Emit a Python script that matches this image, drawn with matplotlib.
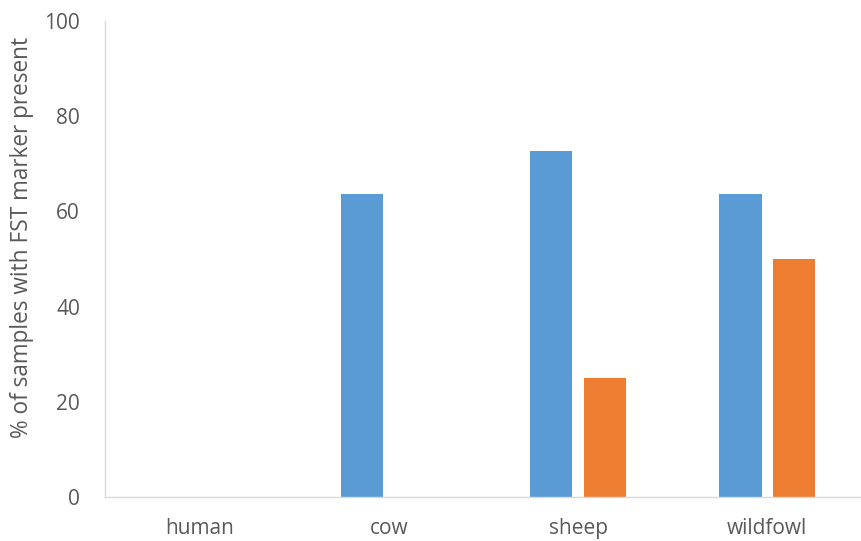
import matplotlib
matplotlib.use("Agg")
import matplotlib.pyplot as plt
import numpy as np

categories = ["human", "cow", "sheep", "wildfowl"]
series_blue = [0, 63.6, 72.7, 63.6]
series_orange = [0, 0, 25, 50]
y_ticks = [0, 20, 40, 60, 80, 100]

plt.rcParams["font.family"] = ["Open Sans", "DejaVu Sans"]
text_color = "#595959"

fig = plt.figure(figsize=(8.62, 5.41), dpi=100)
ax = fig.add_axes([0.1218, 0.0813, 0.8782, 0.880])

x = np.arange(len(categories))
width = 0.222
offset = 0.142
ax.bar(x - offset, series_blue, width, color="#5B9BD5", zorder=2)
ax.bar(x + offset, series_orange, width, color="#ED7D31", zorder=2)

ax.set_xlim(-0.5, len(categories) - 0.5)
ax.set_ylim(0, 100)
ax.set_yticks(y_ticks)
ax.set_yticklabels([str(t) for t in y_ticks])
ax.set_xticks(x)
ax.set_xticklabels(categories)

for side in ["top", "right"]:
    ax.spines[side].set_visible(False)
ax.spines["left"].set_color("#D9D9D9")
ax.spines["bottom"].set_color("#D9D9D9")
ax.spines["left"].set_linewidth(1.0)
ax.spines["bottom"].set_linewidth(1.0)

ax.tick_params(axis="both", length=0, labelsize=15, colors=text_color)
ax.tick_params(axis="y", pad=18)
ax.tick_params(axis="x", pad=15)
ax.set_ylabel("% of samples with FST marker present", fontsize=16.3, color=text_color)
ax.yaxis.set_label_coords(-0.094, 0.546)

fig.savefig("out.png", dpi=100)
